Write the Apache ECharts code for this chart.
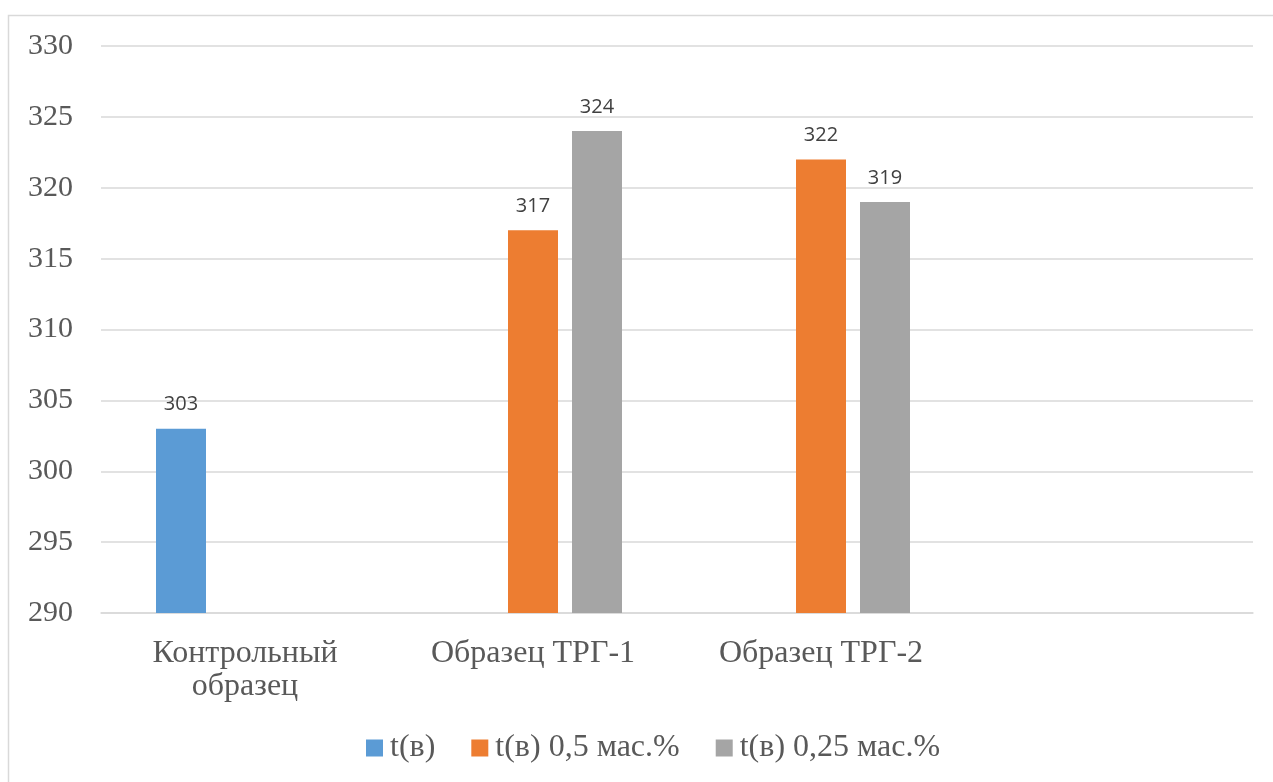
<!DOCTYPE html>
<html><head><meta charset="utf-8">
<script src="https://cdn.jsdelivr.net/npm/echarts@6/dist/echarts.min.js"></script>
<style>html,body{margin:0;padding:0;background:#fff}#c{width:1273px;height:782px}</style>
</head><body><div id="c"></div>
<script>
const categories = ['Контрольный\nобразец', 'Образец ТРГ-1', 'Образец ТРГ-2', ''];
const seriesNames = ['t(в)', 't(в) 0,5 мас.%', 't(в) 0,25 мас.%'];
const valuesBase = [303, null, null, null];
const values05 = [null, 317, 322, null];
const values025 = [null, 324, 319, null];
const yMin = 290, yMax = 330, yStep = 5;

const colors = ['#5B9BD5', '#ED7D31', '#A5A5A5'];
const chart = echarts.init(document.getElementById('c'));
const labelStyle = {show: true, position: 'top', distance: 14, fontFamily: 'Open Sans, Noto Sans, sans-serif', fontSize: 20, color: '#404040'};
function mk(name, data, color) {
  return {name, type: 'bar', data, barWidth: 50, barGap: '28%', itemStyle: {color}, label: labelStyle};
}
chart.setOption({
  animation: false,
  graphic: [{type: 'rect', silent: true, shape: {x: 8.5, y: 15.5, width: 1300, height: 800}, style: {fill: 'none', stroke: '#D9D9D9', lineWidth: 1.5}}],
  legend: {
    data: seriesNames, left: 366, top: 732, padding: 0, itemWidth: 17, itemHeight: 17, itemGap: 36, icon: 'rect',
    textStyle: {fontFamily: 'Liberation Serif, serif', fontSize: 32, color: '#595959', padding: [0, 0, 0, 2]}
  },
  grid: {left: 101, right: 20, top: 46, bottom: 169, containLabel: false},
  xAxis: {
    type: 'category', data: categories,
    axisLine: {show: true, lineStyle: {color: '#D9D9D9', width: 1.5}},
    axisTick: {show: false},
    axisLabel: {fontFamily: 'Liberation Serif, serif', fontSize: 32, color: '#595959', lineHeight: 33, margin: 24, interval: 0}
  },
  yAxis: {
    type: 'value', min: yMin, max: yMax, interval: yStep,
    axisLine: {show: false}, axisTick: {show: false},
    splitLine: {lineStyle: {color: '#D9D9D9', width: 1.5}},
    axisLabel: {fontFamily: 'Liberation Serif, serif', fontSize: 30, color: '#595959', margin: 28}
  },
  series: [mk(seriesNames[0], valuesBase, colors[0]), mk(seriesNames[1], values05, colors[1]), mk(seriesNames[2], values025, colors[2])]
});
</script></body></html>
